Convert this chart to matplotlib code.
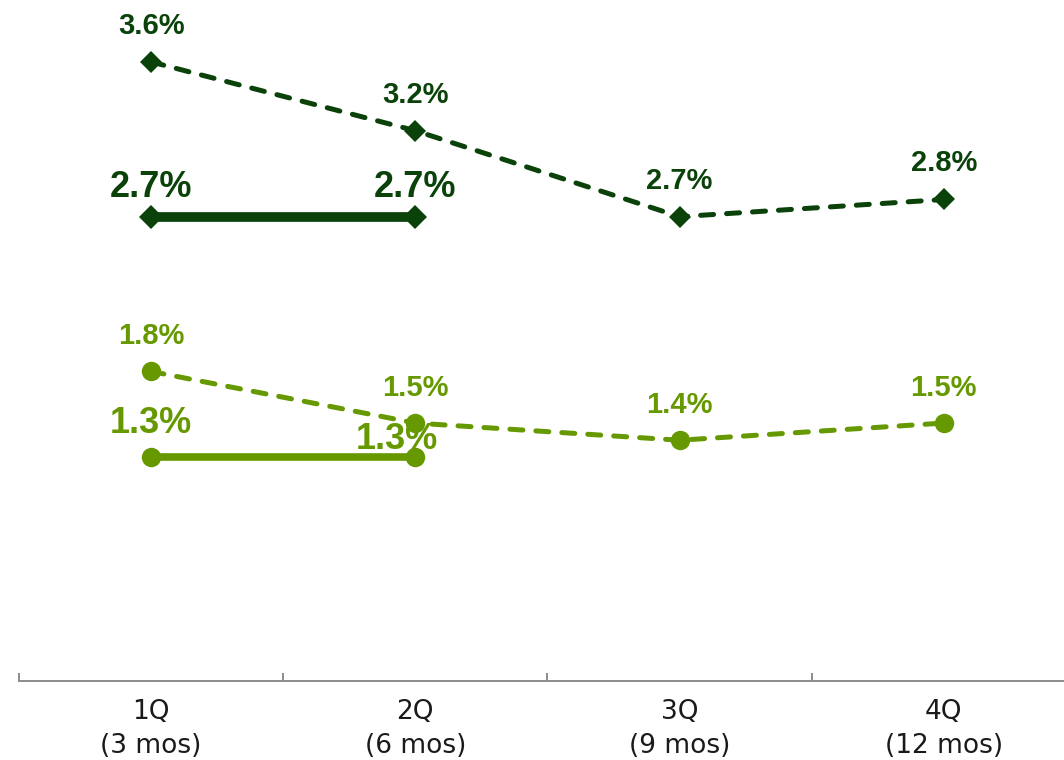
import matplotlib
matplotlib.use("Agg")
import matplotlib.pyplot as plt
from matplotlib import font_manager

# Quarter categories
quarters = ["1Q\n(3 mos)", "2Q\n(6 mos)", "3Q\n(9 mos)", "4Q\n(12 mos)"]

# Dark green series (%)
dark_dashed = [3.6, 3.2, 2.7, 2.8]
dark_solid = [2.7, 2.7]

# Light green series (%)
light_dashed = [1.8, 1.5, 1.4, 1.5]
light_solid = [1.3, 1.3]

DARK = "#0A4209"
LIGHT = "#669900"

# Bold sans for the value labels
bold_file = None
for f in font_manager.findSystemFonts():
    if f.endswith("LiberationSans-Bold.ttf"):
        bold_file = f
        break
if bold_file:
    def bold_font(size):
        return font_manager.FontProperties(fname=bold_file, size=size)
else:
    def bold_font(size):
        return font_manager.FontProperties(family="DejaVu Sans", weight="bold", size=size)

fig = plt.figure(figsize=(10.64, 7.6), dpi=100)
ax = fig.add_axes([19 / 1064, 79 / 760, 1045 / 1064, 681 / 760])

xd = list(range(len(dark_dashed)))
xs = list(range(len(dark_solid)))

ax.plot(xd, dark_dashed, color=DARK, lw=3.6, ls=(0, (2.6, 2.6)),
        dash_capstyle="round", marker="D", ms=11.5, mew=0, zorder=3)
ax.plot(xs, dark_solid, color=DARK, lw=7, solid_capstyle="butt",
        marker="D", ms=12, mew=0, zorder=3)
ax.plot(xd, light_dashed, color=LIGHT, lw=3.6, ls=(0, (2.6, 2.6)),
        dash_capstyle="round", marker="o", ms=14, mew=0, zorder=3)
ax.plot(xs, light_solid, color=LIGHT, lw=5.5, solid_capstyle="butt",
        marker="o", ms=14, mew=0, zorder=3)

def label(x, v, color, size, dx, dy):
    ax.annotate(f"{v:.1f}%", (x, v), xytext=(dx, dy), textcoords="offset pixels",
                ha="center", va="baseline", color=color,
                fontproperties=bold_font(size), zorder=4)

for x, v in zip(xd, dark_dashed):
    label(x, v, DARK, 21, 0, 28)
for x, v in zip(xs, dark_solid):
    label(x, v, DARK, 26, 0, 20)
for x, v in zip(xd, light_dashed):
    label(x, v, LIGHT, 21, 0, 27)
label(xs[0], light_solid[0], LIGHT, 26, 0, 24)
label(xs[1], light_solid[1], LIGHT, 26, -18, 8)

ax.set_xlim(-0.5, 3.455)
ax.set_ylim(0, 3.96)

for s in ["top", "right", "left"]:
    ax.spines[s].set_visible(False)
ax.spines["bottom"].set_color("#8C8C8C")
ax.spines["bottom"].set_linewidth(1.4)

ax.set_yticks([])
ax.set_xticks(xd)
ax.set_xticklabels(quarters, fontsize=19, color="#1a1a1a", linespacing=1.4,
                   family="DejaVu Sans")
ax.set_xticks([-0.5, 0.5, 1.5, 2.5], minor=True)
ax.tick_params(axis="x", which="major", length=0, pad=13)
ax.tick_params(axis="x", which="minor", direction="in", length=6,
               width=1.4, color="#8C8C8C")

fig.savefig("out.png", dpi=100)
